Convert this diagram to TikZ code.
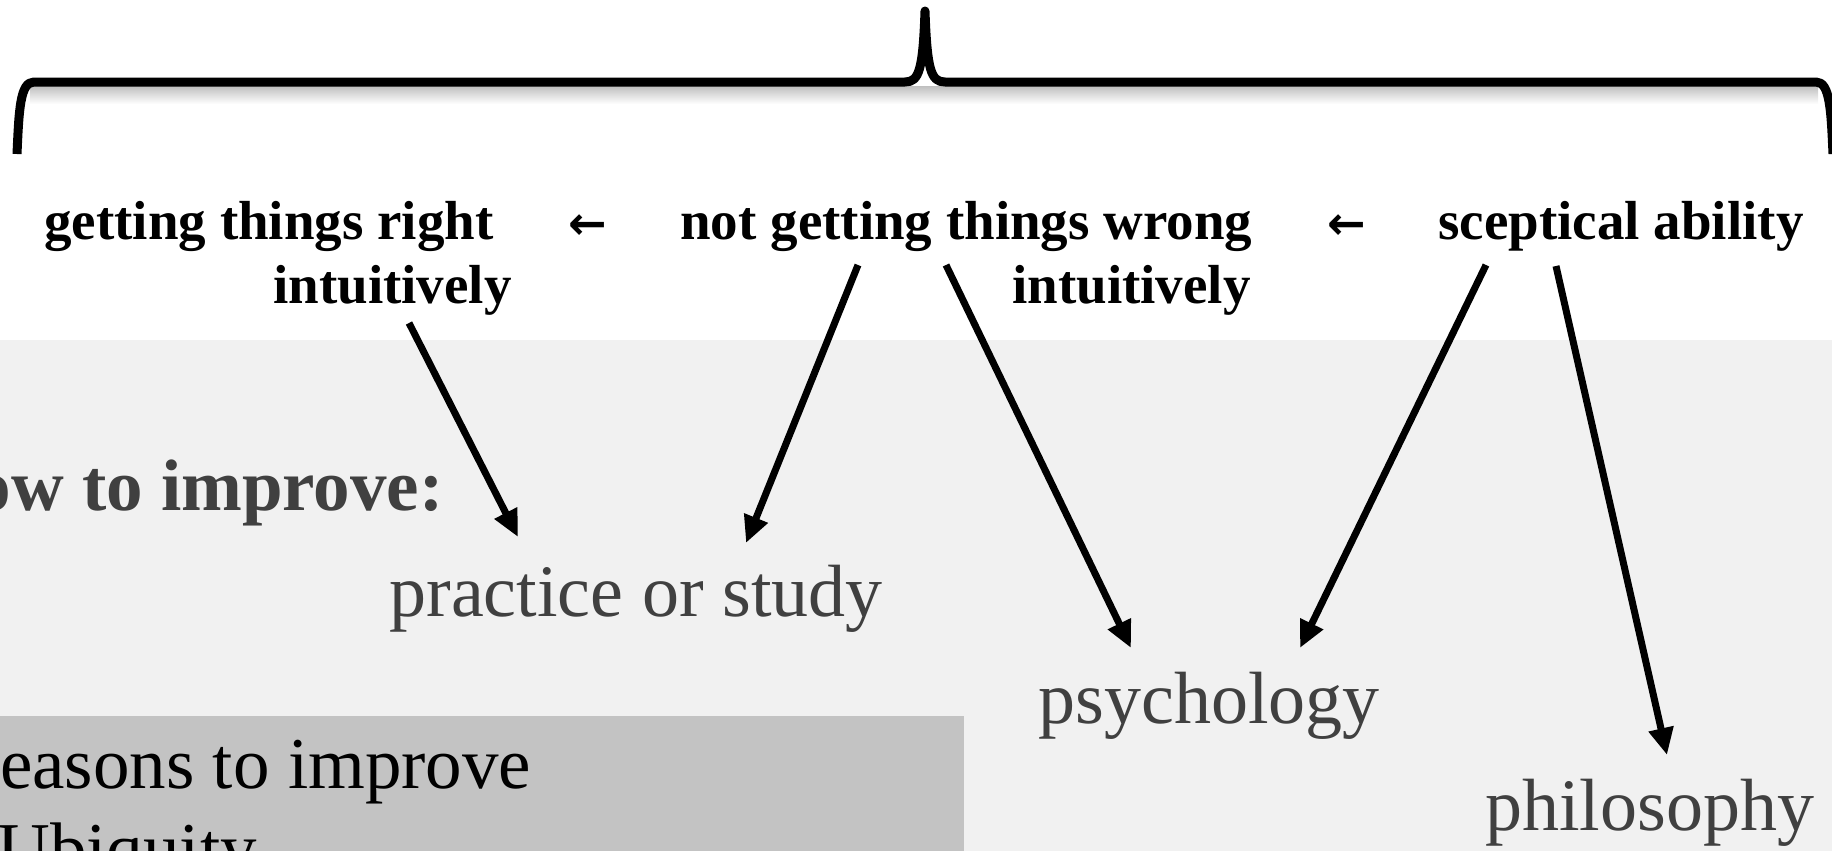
\documentclass[tikz,border=0pt]{standalone}
\usepackage{fontspec}
\setmainfont{Liberation Serif}
\newfontfamily\arrowfont{DejaVu Sans}
\usetikzlibrary{positioning}
\usetikzlibrary{arrows.meta}

\definecolor{paneGray}{HTML}{F1F1F1}
\definecolor{boxGray}{HTML}{C3C3C3}
\definecolor{inkGray}{HTML}{404040}

\begin{document}
\begin{tikzpicture}[
	x=0.5pt, y=-0.5pt,
	topLabel/.style={inner sep=0pt, font=\fontsize{27.5}{33}\selectfont\bfseries},
	leftArrow/.style={inner sep=0pt, font=\arrowfont\bfseries\fontsize{23}{28}\selectfont},
	lowLabel/.style={inner sep=0pt, text=inkGray, font=\fontsize{37}{44}\selectfont},
	pointer/.style={line width=3.5pt, -{Triangle[length=13.5pt,width=12pt]}},
	brace/.style={line width=4.5pt, line join=round}
]

\useasboundingbox (0,0) rectangle (1832,851);
\clip (0,0) rectangle (1832,851);

% backgrounds
\fill[paneGray] (0,340) rectangle (1832,851);
\fill[boxGray] (0,716) rectangle (964,851);

% the brace
\shade[top color=black!25, bottom color=white] (30,86) rectangle (1818,104);
\draw[brace] (17,154) .. controls (19,110) and (20,82) .. (34,82)
	-- (905,82) .. controls (919,82) and (923,70) .. (925,11)
	.. controls (927,70) and (931,82) .. (945,82)
	-- (1816,82) .. controls (1830,82) and (1831,110) .. (1833,154);

% --- top row

\node[topLabel, anchor=base west] (right) at (44,239) {getting things right};
\node[topLabel, anchor=base east] (rightb) at (512,303) {intuitively};
\node[leftArrow, anchor=base] (arrowA) at (588,239) {←};
\node[topLabel, anchor=base west] (wrong) at (680,239) {not getting things wrong};
\node[topLabel, anchor=base east] (wrongb) at (1251,303) {intuitively};
\node[leftArrow, anchor=base] (arrowB) at (1347,239) {←};
\node[topLabel, anchor=base west] (sceptic) at (1438,239) {sceptical ability};

% --- lower part

\node[lowLabel, font=\fontsize{36.5}{44}\selectfont\bfseries, anchor=base east] (how) at (444,510) {How to improve:};
\node[lowLabel, anchor=base west] (practice) at (389,616) {practice or study};
\node[lowLabel, anchor=base west] (psych) at (1038,723) {psychology};
\node[lowLabel, anchor=base west] (philo) at (1485,830) {philosophy};

\node[lowLabel, text=black, font=\fontsize{36.5}{44}\selectfont, anchor=base west] (reasons) at (-49,788) {Reasons to improve};
\node[lowLabel, text=black, font=\fontsize{36.5}{44}\selectfont, anchor=base west] (ubiquity) at (-3,873) {Ubiquity};

% ---

\draw[pointer] ([shift={(-103,20)}]rightb.base east) -- ([shift={(129,-79)}]practice.base west);
\draw[pointer] ([shift={(178,26)}]wrong.base west) -- ([shift={(357,-73)}]practice.base west);
\draw[pointer] ([shift={(266,26)}]wrong.base west) -- ([shift={(93,-75)}]psych.base west);
\draw[pointer] ([shift={(48,26)}]sceptic.base west) -- ([shift={(262,-75)}]psych.base west);
\draw[pointer] ([shift={(118,27)}]sceptic.base west) -- ([shift={(182,-75)}]philo.base west);

\end{tikzpicture}
\end{document}
